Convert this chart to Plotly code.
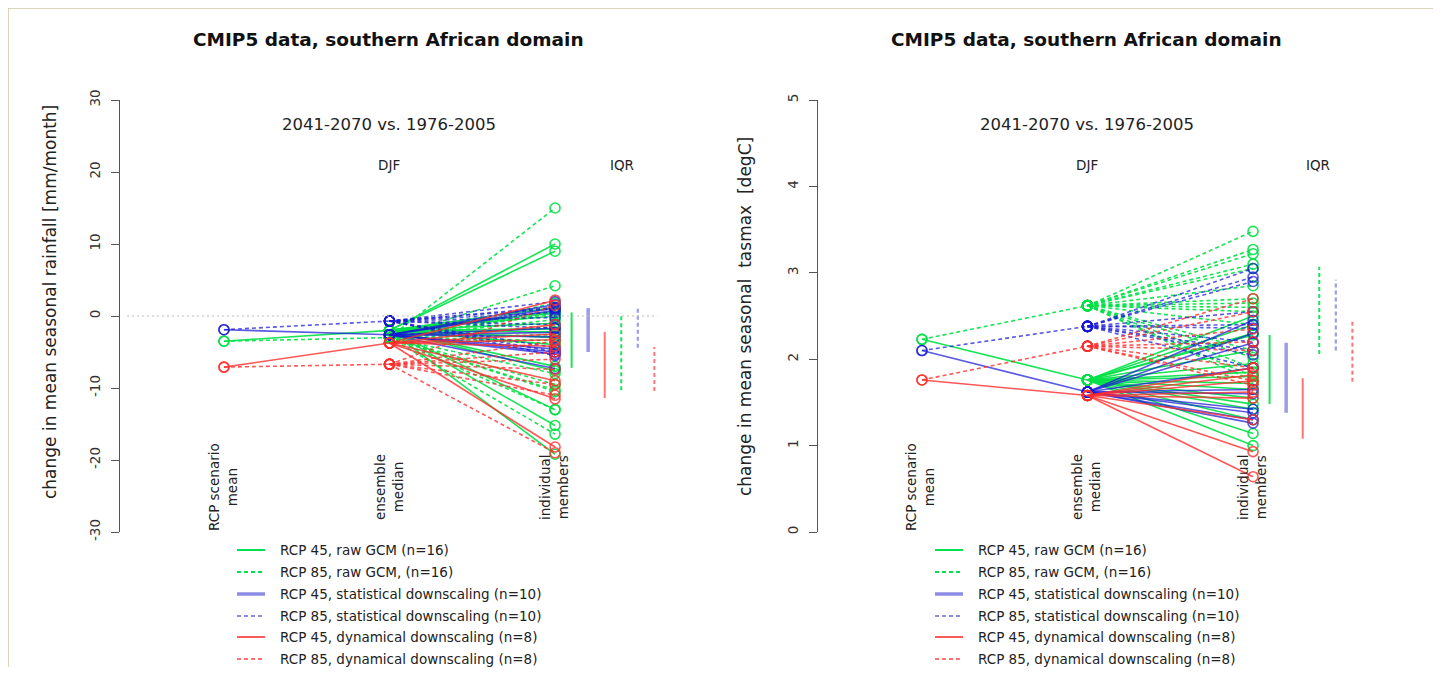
import plotly.graph_objects as go

# ---------------- data ----------------
SERIES = ["RCP 45, raw GCM (n=16)", "RCP 85, raw GCM, (n=16)",
          "RCP 45, statistical downscaling (n=10)", "RCP 85, statistical downscaling (n=10)",
          "RCP 45, dynamical downscaling (n=8)", "RCP 85, dynamical downscaling (n=8)"]
CAT_X = [1, 2, 3]
CAT_LABELS = ["RCP scenario<br>mean", "ensemble<br>median", "individual<br>members"]
IQR_X = [3.1, 3.4, 3.2, 3.5, 3.3, 3.6]

# rainfall panel [mm/month]
rain_scenario_mean = [-3.5, -1.9, -7.1]          # raw GCM, statistical, dynamical
rain_median = [-2.0, -3.0, -2.6, -0.7, -3.75, -6.7]
rain_g45 = [10.0, 9.0, 1.2, 0.6, 0.4, 0.0, -1.0, -1.8, -2.2, -3.0, -4.0, -7.0, -7.6, -13.0, -15.2, -19.2]
rain_g85 = [15.0, 4.2, 1.8, 0.4, 0.3, -0.5, -1.5, -2.6, -3.4, -3.8, -8.0, -9.5, -10.3, -10.5, -13.0, -16.4]
rain_b45 = [1.6, 1.1, 0.8, -1.7, -2.3, -2.9, -4.6, -5.0, -5.3, -7.3]
rain_b85 = [2.0, 1.2, 1.0, 0.5, -0.2, -1.2, -1.7, -4.4, -5.0, -5.5]
rain_r45 = [2.2, -1.2, -2.5, -3.3, -4.2, -9.0, -11.5, -18.2]
rain_r85 = [1.5, -3.5, -5.0, -6.0, -7.4, -9.5, -11.0, -19.0]
rain_iqr_low = [-7.2, -10.3, -5.0, -4.4, -11.4, -10.4]
rain_iqr_high = [0.5, 0.4, 1.1, 1.1, -2.2, -4.3]
rain_ticks = [-30, -20, -10, 0, 10, 20, 30]

# tasmax panel [degC]
temp_scenario_mean = [2.23, 2.10, 1.76]
temp_median = [1.76, 2.62, 1.62, 2.38, 1.58, 2.15]
temp_g45 = [2.50, 2.40, 2.30, 2.28, 2.10, 1.95, 1.85, 1.80, 1.72, 1.65, 1.55, 1.48, 1.42, 1.30, 1.14, 1.00]
temp_g85 = [3.48, 3.27, 3.22, 3.10, 3.05, 2.85, 2.70, 2.65, 2.60, 2.55, 2.40, 2.10, 2.02, 1.90, 1.80, 1.75]
temp_b45 = [2.45, 2.30, 2.19, 1.90, 1.65, 1.60, 1.42, 1.38, 1.30, 1.26]
temp_b85 = [3.05, 2.95, 2.90, 2.55, 2.40, 2.36, 2.20, 2.10, 2.05, 1.90]
temp_r45 = [1.90, 1.82, 1.75, 1.62, 1.55, 1.30, 0.93, 0.64]
temp_r85 = [2.70, 2.55, 2.35, 2.20, 2.10, 1.90, 1.75, 1.70]
temp_iqr_low = [1.48, 2.06, 1.38, 2.10, 1.08, 1.74]
temp_iqr_high = [2.28, 3.07, 2.19, 2.92, 1.78, 2.44]
temp_ticks = [0, 1, 2, 3, 4, 5]

# ---------------- styling ----------------
OFF = 8                     # page body margin of the browser
W, H = 1441 - 2 * OFF, 675 - 2 * OFF
FONT = "DejaVu Sans"
LINE_COL = ['rgba(0,225,70,0.9)', 'rgba(0,225,70,0.9)',
            'rgba(25,25,215,0.72)', 'rgba(25,25,215,0.72)',
            'rgba(255,45,45,0.8)', 'rgba(255,45,45,0.8)']
IQR_COL = ['rgba(0,225,70,0.9)', 'rgba(0,225,70,0.9)',
           'rgba(90,90,215,0.6)', 'rgba(90,90,215,0.6)',
           'rgba(255,70,70,0.75)', 'rgba(255,70,70,0.75)']
IQR_W = [2, 2, 3.5, 2.2, 2, 2]
DASH = ['solid', '4px,3px'] * 3


def px(x):
    return (x - OFF) / W


def py(y):
    return 1 - (y - OFF) / H


fig = go.Figure()

panels = [
    dict(xa='x', ya='y', smean=rain_scenario_mean, med=rain_median,
         mem=[rain_g45, rain_g85, rain_b45, rain_b85, rain_r45, rain_r85],
         lo=rain_iqr_low, hi=rain_iqr_high),
    dict(xa='x2', ya='y2', smean=temp_scenario_mean, med=temp_median,
         mem=[temp_g45, temp_g85, temp_b45, temp_b85, temp_r45, temp_r85],
         lo=temp_iqr_low, hi=temp_iqr_high),
]

for p in panels:
    for i in range(6):
        mk = dict(symbol='circle-open', size=10, color=LINE_COL[i], line=dict(width=1.6))
        ln = dict(color=LINE_COL[i], width=1.6, dash=DASH[i])
        # scenario mean -> ensemble median
        fig.add_trace(go.Scatter(x=[CAT_X[0], CAT_X[1]], y=[p['smean'][i // 2], p['med'][i]],
                                 mode='lines+markers', line=ln, marker=mk,
                                 xaxis=p['xa'], yaxis=p['ya'], hoverinfo='skip'))
        # ensemble median -> members
        xs, ys = [], []
        for m in p['mem'][i]:
            xs += [CAT_X[1], CAT_X[2], None]
            ys += [p['med'][i], m, None]
        fig.add_trace(go.Scatter(x=xs, y=ys, mode='lines+markers', line=ln, marker=mk,
                                 xaxis=p['xa'], yaxis=p['ya'], connectgaps=False,
                                 hoverinfo='skip'))
    for i in range(6):
        fig.add_trace(go.Scatter(x=[IQR_X[i], IQR_X[i]], y=[p['lo'][i], p['hi'][i]],
                                 mode='lines', line=dict(color=IQR_COL[i], width=IQR_W[i], dash=DASH[i]),
                                 xaxis=p['xa'], yaxis=p['ya'], hoverinfo='skip'))

XR = [0.372, 3.634]
tickfont = dict(family=FONT, size=13.5, color='#333')
yax_common = dict(domain=[py(532), py(100)], tickangle=-90, showline=True, linecolor='#555',
                  linewidth=1, ticks='outside', ticklen=8, tickcolor='#555', tickfont=tickfont,
                  showgrid=False, zeroline=False, ticklabelstandoff=6, automargin=False)

fig.update_layout(
    width=W, height=H, autosize=False, margin=dict(l=0, r=0, t=0, b=0, pad=0),
    paper_bgcolor='white', plot_bgcolor='white', showlegend=False,
    xaxis=dict(domain=[px(120), px(660)], range=XR, visible=False, automargin=False),
    xaxis2=dict(domain=[px(818), px(1358)], range=XR, visible=False, automargin=False),
    yaxis=dict(range=[-30, 30], tickvals=rain_ticks, ticktext=[str(v) for v in rain_ticks],
               anchor='x', **yax_common),
    yaxis2=dict(range=[0, 5], tickvals=temp_ticks, ticktext=[str(v) for v in temp_ticks],
                anchor='x2', **yax_common),
)

ann = []
shapes = []
txt = dict(family=FONT, size=13.5, color='#222')


def note(x, y, text, font, **kw):
    d = dict(x=px(x), y=py(y), xref='paper', yref='paper', showarrow=False,
             xanchor='center', yanchor='middle', text=text, font=font)
    d.update(kw)
    ann.append(d)


for cx_title, cx_med, cx_iqr, cx_cats, ytitle, ytx, ytyc in [
        (388, 389, 622, [223, 389, 554], "change in mean seasonal rainfall [mm/month]", 50, 302),
        (1086, 1087, 1318, [920, 1086, 1252], "change in mean seasonal  tasmax  [degC]", 745, 317)]:
    note(cx_title, 40, "<b>CMIP5 data, southern African domain</b>",
         dict(family=FONT, size=18.5, color='#111'))
    note(cx_med, 124, "2041-2070 vs. 1976-2005", dict(family=FONT, size=16.5, color='#222'))
    note(cx_med, 165, "DJF", txt)
    note(cx_iqr, 165, "IQR", txt)
    for cx, lab in zip(cx_cats, CAT_LABELS):
        note(cx, 487, lab, txt, textangle=-90, align='center')
    note(ytx, ytyc, ytitle, dict(family=FONT, size=17, color='#222'), textangle=-90)

# zero reference line on rainfall panel
shapes.append(dict(type='line', xref='x domain', yref='y', x0=0.013, x1=0.995, y0=0, y1=0,
                   line=dict(color='#bbbbbb', width=1, dash='2px,3px')))

# legends
LEG_Y = [550, 572, 594, 616, 637, 659]
LEG_COL = ['#00e050', '#00e050', '#8c8ce6', '#8c8ce6', '#ff5a5a', '#ff7070']
LEG_W = [2, 2, 3.5, 2, 2, 2]
for lx in [237, 935]:
    for i in range(6):
        shapes.append(dict(type='line', xref='paper', yref='paper', x0=px(lx), x1=px(lx + 28),
                           y0=py(LEG_Y[i]), y1=py(LEG_Y[i]),
                           line=dict(color=LEG_COL[i], width=LEG_W[i], dash=DASH[i])))
        note(lx + 41, LEG_Y[i], SERIES[i], txt, xanchor='left')

# frame lines (top and left)
shapes.append(dict(type='line', xref='paper', yref='paper', x0=px(8), x1=1, y0=py(8), y1=py(8),
                   line=dict(color='#cdc6a4', width=1.5)))
shapes.append(dict(type='line', xref='paper', yref='paper', x0=px(8), x1=px(8), y0=0, y1=py(8),
                   line=dict(color='#cdc6a4', width=1.5)))

fig.update_layout(annotations=ann, shapes=shapes)
fig.write_html("out.html")
